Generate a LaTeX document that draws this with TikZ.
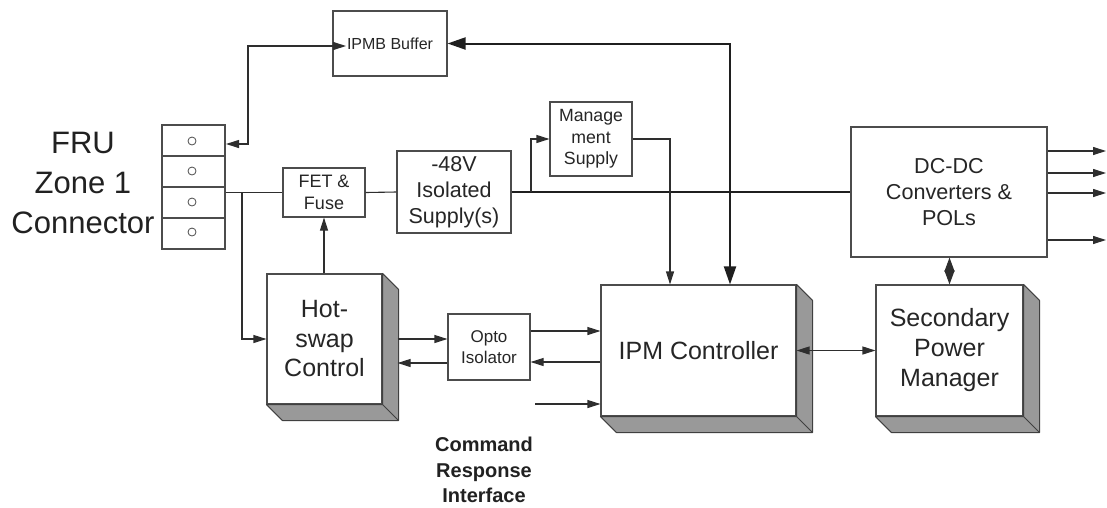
\documentclass[tikz,border=0pt]{standalone}
\usepackage{fontspec}
\setmainfont{Liberation Sans}
\usetikzlibrary{arrows.meta,calc}

% grey side and bottom faces behind a raised block
\newcommand\raisedfaces[1]{%
  \draw[face] (#1.north east) -- ++(16,16) -- ($(#1.south east)+(16,16)$)
    -- ($(#1.south west)+(16,16)$) -- (#1.south west) -- (#1.south east) -- cycle;
  \draw[face] (#1.south east) -- ++(16,16);
}

\begin{document}
\begin{tikzpicture}[x=1pt,y=-1pt,
  blk/.style={draw=black!70, line width=1.1pt, fill=white, inner sep=0pt,
              align=center, text=black!85},
  cell/.style={draw=black!70, line width=1.1pt, fill=white, inner sep=0pt,
               minimum width=63pt, minimum height=31pt},
  pin/.style={circle, draw=black!70, line width=0.8pt, inner sep=0pt, minimum size=8pt},
  face/.style={fill=black!40, draw=black!75, line width=1pt, line join=round},
  wire/.style={draw=black!82, line width=1.1pt},
  bus/.style={draw=black!88, line width=2pt},
  tip/.style={-{Triangle[length=13pt,width=8pt]}},
  tips/.style={{Triangle[length=13pt,width=8pt]}-{Triangle[length=13pt,width=8pt]}},
  bigtips/.style={{Triangle[length=18pt,width=12pt]}-{Triangle[length=18pt,width=12pt]}},
  lbl/.style={align=center, text=black!87, inner sep=0pt}
]
\useasboundingbox (0,0) rectangle (1107,507);

% ---- connector ----
\node[lbl, font=\fontsize{31}{40}\selectfont] (frulbl) at (83,183) {FRU\\Zone 1\\Connector};
\node[cell] (c1) at (193.5,140.5) {};
\node[cell] (c2) at (193.5,171.5) {};
\node[cell] (c3) at (193.5,202.5) {};
\node[cell] (c4) at (193.5,233.5) {};
\node[pin] (p1) at (192,141) {};
\node[pin] (p2) at (192,171) {};
\node[pin] (p3) at (192,202) {};
\node[pin] (p4) at (192,232) {};

% ---- flat blocks ----
\node[blk, minimum width=114pt, minimum height=65pt, font=\fontsize{16}{19}\selectfont]
  (ipmb) at (390,43.5) {IPMB Buffer};
\node[blk, minimum width=82pt, minimum height=49pt, font=\fontsize{18}{22}\selectfont]
  (fet) at (324,192.5) {FET \&\\Fuse};
\node[blk, minimum width=114pt, minimum height=82pt, font=\fontsize{21.5}{26}\selectfont]
  (psu) at (454,192) {-48V\\Isolated\\Supply(s)};
\node[blk, minimum width=82pt, minimum height=74pt, font=\fontsize{17.7}{21.5}\selectfont]
  (mgmt) at (591,139) {Manage\\ment\\Supply};
\node[blk, minimum width=196pt, minimum height=130pt, font=\fontsize{21.6}{26}\selectfont]
  (dcdc) at (949,192) {DC-DC\\Converters \&\\POLs};
\node[blk, minimum width=82pt, minimum height=66pt, font=\fontsize{17}{21}\selectfont]
  (opto) at (489,347) {Opto\\Isolator};

% ---- raised blocks ----
\node[blk, minimum width=115pt, minimum height=130pt, font=\fontsize{25}{29.5}\selectfont]
  (hot) at (324.5,339) {Hot-\\swap\\Control};
\raisedfaces{hot}
\node[blk, minimum width=195pt, minimum height=131pt, font=\fontsize{25}{30}\selectfont]
  (ipm) at (698.5,350.5) {IPM Controller};
\raisedfaces{ipm}
\node[blk, minimum width=147pt, minimum height=131pt, font=\fontsize{25}{30}\selectfont]
  (spm) at (949.5,350.5) {Secondary\\Power\\Manager};
\raisedfaces{spm}

\node[lbl, font=\fontsize{20}{25.5}\selectfont\bfseries] (cmdlbl) at (484,470)
  {Command\\Response\\Interface};

% ---- bend points and free ends ----
\coordinate (ipmbTip) at (346,46);
\coordinate (connTip) at (226,144);
\coordinate (ipmbBend) at (248,46);
\coordinate (busX) at (730,43.5);
\coordinate (mgX) at (670,0);
\coordinate (jHot) at (242,192);
\coordinate (jMg) at (531,192);
\coordinate (cmdIn) at (535,404);

% ---- connectors ----
\draw[wire, tips] (ipmbTip) -- (ipmbBend) |- (connTip);
\draw[bus, bigtips] (ipmb.east) -- (busX) -- (ipm.north -| busX);

\draw[wire] (c3.east |- fet.west) -- (fet.west);
\draw[wire, tip] (jHot) |- (hot.west);
\draw[wire] (fet.east) -- (psu.west);
\draw[bus] (psu.east) -- (dcdc.west);
\draw[wire, tip] (jMg) |- (mgmt.west);
\draw[wire, tip] (mgmt.east) -| (ipm.north -| mgX);
\draw[wire, tip] (fet.south |- hot.north) -- (fet.south);

\draw[wire, tip] ([xshift=15pt]hot.east) -- (opto.west |- hot.east);
\draw[wire, tip] ([yshift=-16pt]opto.west) -- ([xshift=15pt,yshift=-24pt]hot.east);
\draw[wire, tip] ([yshift=16pt]opto.east) -- ([yshift=19.5pt]ipm.west);
\draw[wire, tip] ([yshift=-11.5pt]ipm.west) -- ([yshift=-15pt]opto.east);
\draw[wire, tip] (cmdIn) -- (ipm.west |- cmdIn);

\draw[wire, tips] (ipm.east) -- (spm.west);
\draw[wire, {Triangle[length=14pt,width=10pt]}-{Triangle[length=14pt,width=10pt]}]
  (spm.north) -- (spm.north |- dcdc.south);

\foreach \y [count=\i] in {151,173,193,240} {
  \coordinate (out\i) at (1106,\y);
  \draw[wire, tip] (dcdc.east |- out\i) -- (out\i);
}
\end{tikzpicture}
\end{document}
